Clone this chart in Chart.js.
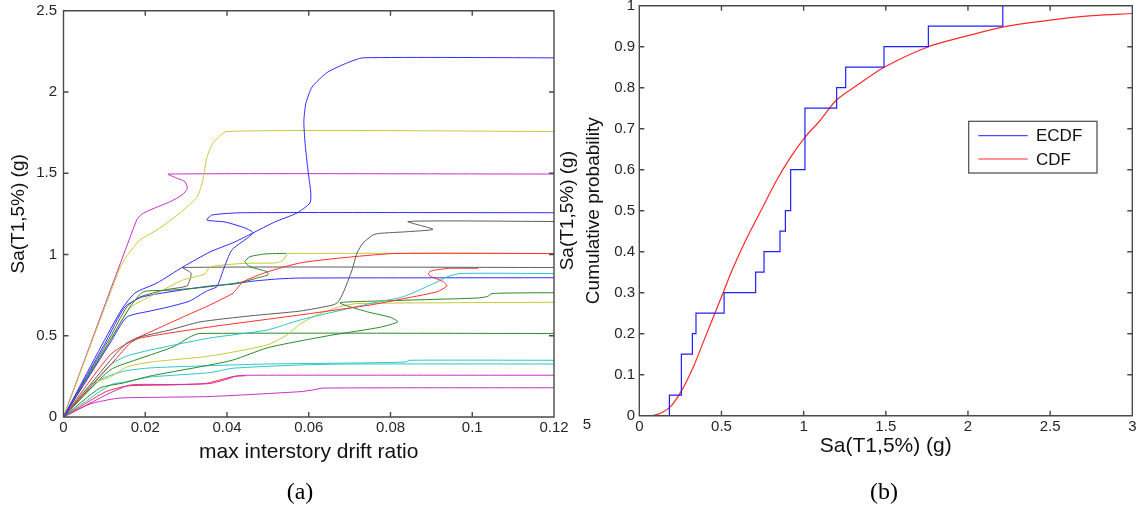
<!DOCTYPE html>
<html>
<head>
<meta charset="utf-8">
<script src="https://cdn.jsdelivr.net/npm/chart.js@4.4.1/dist/chart.umd.min.js"></script>
<style>
  html, body { margin: 0; padding: 0; background: #fff; }
  #wrap { position: relative; width: 1140px; height: 510px; overflow: hidden; background: #fff; }
  canvas { position: absolute; left: 0; top: 0; }
  .cap { position: absolute; font-family: 'Liberation Serif', 'Times New Roman', serif; font-size: 24px; color: #000; transform: translate(-50%, -50%); white-space: nowrap; }
  .stray { position: absolute; font-family: 'Liberation Sans', Arial, sans-serif; font-size: 15px; color: #222; transform: translate(-50%, -50%); }
</style>
</head>
<body>
<div id="wrap">
  <canvas id="ida" width="1140" height="510"></canvas>
  <canvas id="frag" width="1140" height="510"></canvas>
  <div class="cap" style="left:300px; top:491px;">(a)</div>
  <div class="cap" style="left:884px; top:491px;">(b)</div>
  <div class="stray" style="left:587px; top:423px;">5</div>
</div>
<script>
// ---- IDA curves: [max interstory drift ratio, Sa(T1,5%) in g] per ground motion ----
const rec01 = [[0,0],[0.0089,0.42],[0.0143,0.665],[0.0175,0.763],[0.0229,0.825],[0.0292,0.923],[0.0358,1.015],[0.0419,1.077],[0.0463,1.132],[0.0517,1.2],[0.0571,1.255],[0.0603,1.317],[0.0605,1.378],[0.0598,1.52],[0.0591,1.686],[0.0588,1.82],[0.0593,1.93],[0.0608,2.03],[0.0645,2.12],[0.0695,2.18],[0.0733,2.21],[0.12,2.21]];
const rec02 = [[0,0],[0.0138,0.917],[0.0155,0.991],[0.0187,1.089],[0.0229,1.151],[0.0285,1.255],[0.0327,1.354],[0.0341,1.458],[0.0351,1.6],[0.0366,1.686],[0.04,1.757],[0.12,1.757]];
const rec03 = [[0,0],[0.0179,1.212],[0.0192,1.249],[0.0212,1.274],[0.0261,1.325],[0.029,1.366],[0.0303,1.407],[0.0297,1.448],[0.0278,1.469],[0.0256,1.495],[0.12,1.495]];
const rec04 = [[0,0],[0.0114,0.455],[0.0155,0.615],[0.0212,0.652],[0.026,0.679],[0.0309,0.714],[0.035,0.775],[0.0375,0.802],[0.0391,0.905],[0.0412,1.028],[0.0464,1.132],[0.0444,1.163],[0.0395,1.2],[0.0351,1.212],[0.0363,1.243],[0.0439,1.257],[0.12,1.257]];
const rec05 = [[0,0],[0.0126,0.382],[0.0155,0.455],[0.0187,0.492],[0.026,0.535],[0.0334,0.585],[0.0456,0.622],[0.0579,0.652],[0.0659,0.689],[0.0672,0.708],[0.0684,0.763],[0.0706,0.905],[0.0718,1.009],[0.0733,1.071],[0.0757,1.12],[0.0774,1.13],[0.084,1.14],[0.0904,1.155],[0.0843,1.203],[0.12,1.203]];
const rec06 = [[0,0],[0.0114,0.382],[0.017,0.474],[0.0212,0.523],[0.026,0.578],[0.0309,0.634],[0.0358,0.689],[0.0415,0.763],[0.0439,0.831],[0.0498,0.892],[0.0579,0.948],[0.0676,0.978],[0.0811,1.006],[0.12,1.006]];
const rec07 = [[0,0],[0.0114,0.47],[0.0163,0.678],[0.0195,0.77],[0.026,0.78],[0.0351,0.8],[0.0439,0.831],[0.0473,0.855],[0.05,0.874],[0.0498,0.894],[0.0456,0.925],[0.0444,0.956],[0.0456,0.986],[0.0493,1.003],[0.0546,1.007]];
const rec08 = [[0,0],[0.0102,0.42],[0.0163,0.671],[0.0229,0.763],[0.0292,0.843],[0.0346,0.88],[0.0358,0.923],[0.0439,0.945],[0.0517,0.948],[0.0535,0.96],[0.0544,0.991],[0.0552,1.006],[0.12,1.006]];
const rec09 = [[0,0],[0.0114,0.49],[0.0155,0.677],[0.0187,0.738],[0.0248,0.782],[0.0302,0.806],[0.0309,0.843],[0.0312,0.886],[0.0292,0.92],[0.12,0.92]];
const rec10 = [[0,0],[0.0126,0.351],[0.0163,0.455],[0.0187,0.486],[0.0358,0.554],[0.0579,0.628],[0.075,0.689],[0.084,0.732],[0.0914,0.771],[0.0938,0.806],[0.0929,0.833],[0.0901,0.862],[0.0892,0.88],[0.0901,0.9],[0.0946,0.915],[0.1014,0.915]];
const rec11 = [[0,0],[0.0114,0.32],[0.0155,0.375],[0.0212,0.412],[0.0358,0.486],[0.0498,0.535],[0.0579,0.597],[0.075,0.698],[0.0831,0.74],[0.0914,0.831],[0.0938,0.862],[0.097,0.883],[0.12,0.883]];
const rec12 = [[0,0],[0.0102,0.455],[0.015,0.677],[0.0192,0.738],[0.0273,0.775],[0.0358,0.806],[0.0415,0.818],[0.0456,0.834],[0.0522,0.849],[0.0579,0.855],[0.12,0.857]];
const rec13 = [[0,0],[0.0089,0.178],[0.0146,0.209],[0.0212,0.252],[0.0358,0.32],[0.0415,0.351],[0.0498,0.425],[0.0579,0.468],[0.0659,0.505],[0.0774,0.552],[0.0818,0.586],[0.0799,0.614],[0.0742,0.648],[0.0676,0.702],[0.0774,0.714],[0.0897,0.723],[0.1012,0.732],[0.1038,0.742],[0.1048,0.76],[0.12,0.765]];
const rec14 = [[0,0],[0.0065,0.197],[0.0114,0.246],[0.0155,0.308],[0.0212,0.338],[0.0358,0.375],[0.0498,0.443],[0.0547,0.505],[0.0579,0.572],[0.062,0.628],[0.0676,0.679],[0.0718,0.698],[0.12,0.706]];
const rec15 = [[0,0],[0.0114,0.289],[0.0187,0.36],[0.0268,0.431],[0.0309,0.492],[0.0332,0.514],[0.12,0.514]];
const rec16 = [[0,0],[0.0089,0.228],[0.015,0.283],[0.0212,0.302],[0.0334,0.314],[0.0498,0.326],[0.0701,0.332],[0.0835,0.338],[0.0848,0.349],[0.12,0.349]];
const rec17 = [[0,0],[0.0114,0.197],[0.015,0.215],[0.0212,0.246],[0.0358,0.273],[0.0415,0.3],[0.0579,0.32],[0.0701,0.326],[0.12,0.326]];
const rec18 = [[0,0],[0.0114,0.148],[0.0163,0.197],[0.0261,0.2],[0.0358,0.206],[0.0407,0.238],[0.0422,0.252],[0.0449,0.257],[0.12,0.257]];
const rec19 = [[0,0],[0.0102,0.154],[0.0158,0.191],[0.0261,0.197],[0.0346,0.206],[0.0383,0.228],[0.0415,0.249],[0.0446,0.254]];
const rec20 = [[0,0],[0.0065,0.08],[0.0131,0.115],[0.0187,0.12],[0.0358,0.126],[0.0579,0.156],[0.061,0.166],[0.0635,0.178],[0.12,0.18]];

const idaRecords = [rec01, rec02, rec03, rec04, rec05, rec06, rec07, rec08, rec09, rec10,
                    rec11, rec12, rec13, rec14, rec15, rec16, rec17, rec18, rec19, rec20];
const idaColorKeys = ['blue','yellow','magenta','blue','gray','red','green','yellow','gray','red',
                      'cyan','blue','green','yellow','green','cyan','cyan','magenta','red','magenta'];

// ---- Collapse capacities: empirical and fitted distribution ----
const ecdfSa   = [0.183, 0.183, 0.256, 0.323, 0.345, 0.516, 0.708, 0.759, 0.856, 0.889, 0.921, 1.008, 1.201, 1.256, 1.489, 1.759, 2.212];
const ecdfProb = [0,     0.05,  0.15,  0.2,   0.25,  0.3,   0.35,  0.4,   0.45,  0.5,   0.6,   0.75,  0.8,   0.85,  0.9,   0.95,  1.0];
const cdfSa    = [0.075, 0.13, 0.19, 0.26, 0.33, 0.39, 0.46, 0.51, 0.57, 0.65, 0.74, 0.83, 0.92, 1.01, 1.10, 1.20, 1.34, 1.49, 1.76, 2.03, 2.24, 2.50, 2.76, 3.0];
const cdfProb  = [0.0,   0.006, 0.022, 0.063, 0.12, 0.18, 0.25, 0.30, 0.36, 0.43, 0.50, 0.57, 0.63, 0.68, 0.72, 0.77, 0.81, 0.85, 0.90, 0.93, 0.95, 0.965, 0.976, 0.981];

// ---- Tick labels ----
const driftTicks = [0, 0.02, 0.04, 0.06, 0.08, 0.1, 0.12];
const saTicks    = [0, 0.5, 1, 1.5, 2, 2.5];
const saTicksB   = [0, 0.5, 1, 1.5, 2, 2.5, 3];
const probTicks  = [0, 0.1, 0.2, 0.3, 0.4, 0.5, 0.6, 0.7, 0.8, 0.9, 1];

const lineColors = {
  blue: '#2d2dff', green: '#2a8a2a', red: '#ff2d2d', cyan: '#2ec6c6',
  magenta: '#c630c6', yellow: '#c9c93a', gray: '#5c5c5c'
};

const SANS = "'Liberation Sans', Arial, sans-serif";
const tickFont = { family: SANS, size: 15 };
const tickColor = '#262626';

// Box around the axes with inward tick marks on all four sides
const boxFrame = {
  id: 'boxFrame',
  afterDatasetsDraw(chart) {
    const { ctx, chartArea: a, scales: { x, y } } = chart;
    const L = a.left, R = a.right, T = a.top, B = a.bottom, len = 5;
    ctx.save();
    ctx.strokeStyle = '#4a4a4a';
    ctx.lineWidth = 1.4;
    ctx.beginPath();
    ctx.rect(L, T, R - L, B - T);
    x.ticks.forEach(t => {
      const px = x.getPixelForValue(t.value);
      ctx.moveTo(px, B); ctx.lineTo(px, B - len);
      ctx.moveTo(px, T); ctx.lineTo(px, T + len);
    });
    y.ticks.forEach(t => {
      const py = y.getPixelForValue(t.value);
      ctx.moveTo(L, py); ctx.lineTo(L + len, py);
      ctx.moveTo(R, py); ctx.lineTo(R - len, py);
    });
    ctx.stroke();
    ctx.restore();
  }
};

// Boxed legend inside the axes
const boxLegend = {
  id: 'boxLegend',
  afterDraw(chart) {
    const { ctx, chartArea: a } = chart;
    const x0 = a.right - 163.6, y0 = a.top + 115.6, w = 128.3, h = 51.7;
    ctx.save();
    ctx.fillStyle = '#fff';
    ctx.fillRect(x0, y0, w, h);
    ctx.strokeStyle = '#4a4a4a';
    ctx.lineWidth = 1.2;
    ctx.strokeRect(x0, y0, w, h);
    ctx.font = '17px ' + SANS;
    ctx.textBaseline = 'middle';
    ctx.textAlign = 'left';
    chart.data.datasets.forEach((ds, i) => {
      const yy = y0 + 14.4 + i * 23.3;
      ctx.strokeStyle = ds.borderColor;
      ctx.lineWidth = 1;
      ctx.beginPath();
      ctx.moveTo(x0 + 9.6, yy); ctx.lineTo(x0 + 59, yy);
      ctx.stroke();
      ctx.fillStyle = '#111';
      ctx.fillText(ds.label, x0 + 67.3, yy + 1);
    });
    ctx.restore();
  }
};

function fixedTicks(values) {
  return scale => { scale.ticks = values.map(v => ({ value: v })); };
}

function xAxis(min, max, values, title, height, titlePad) {
  return {
    type: 'linear', min, max,
    afterBuildTicks: fixedTicks(values),
    ticks: { callback: v => String(v), font: tickFont, color: tickColor, padding: 2, maxRotation: 0, autoSkip: false },
    grid: { display: false, drawTicks: false },
    border: { display: false },
    title: { display: true, text: title, font: { family: SANS, size: 21 }, color: '#111', padding: { top: 0, bottom: titlePad } },
    afterFit: s => { s.height = height; s.paddingLeft = 0; s.paddingRight = 0; }
  };
}

function yAxis(min, max, values, title, width, tickPad, titlePadTop, titleLineHeight) {
  return {
    type: 'linear', min, max,
    afterBuildTicks: fixedTicks(values),
    ticks: { callback: v => String(v), font: tickFont, color: tickColor, padding: tickPad, autoSkip: false },
    grid: { display: false, drawTicks: false },
    border: { display: false },
    title: { display: true, text: title, font: { family: SANS, size: 19, lineHeight: titleLineHeight }, color: '#111', padding: { top: titlePadTop, bottom: 0 } },
    afterFit: s => { s.width = width; s.paddingTop = 0; s.paddingBottom = 0; }
  };
}

// (a) IDA curves
new Chart(document.getElementById('ida'), {
  type: 'scatter',
  data: {
    datasets: idaRecords.map((rec, i) => ({
      label: 'GM ' + (i + 1),
      data: rec.map(p => ({ x: p[0], y: p[1] })),
      showLine: true,
      borderColor: lineColors[idaColorKeys[i]],
      borderWidth: 1,
      pointRadius: 0,
      tension: 0.2,
      fill: false
    }))
  },
  options: {
    responsive: false,
    animation: false,
    layout: { padding: { left: 0, top: 10.7, right: 586, bottom: 0 } },
    plugins: { legend: { display: false }, tooltip: { enabled: false } },
    scales: {
      x: xAxis(0, 0.12, driftTicks, 'max interstory drift ratio', 93, 45.5),
      y: yAxis(0, 2.5, saTicks, 'Sa(T1,5%) (g)', 63.5, 6.5, 7.6, 1.2)
    }
  },
  plugins: [boxFrame]
});

// (b) fragility: empirical vs fitted CDF
new Chart(document.getElementById('frag'), {
  type: 'scatter',
  data: {
    datasets: [
      {
        label: 'ECDF',
        data: ecdfSa.map((v, i) => ({ x: v, y: ecdfProb[i] })),
        showLine: true, stepped: 'before',
        borderColor: '#2020ff', borderWidth: 1.2, pointRadius: 0, fill: false
      },
      {
        label: 'CDF',
        data: cdfSa.map((v, i) => ({ x: v, y: cdfProb[i] })),
        showLine: true, tension: 0.3,
        borderColor: '#ff2a2a', borderWidth: 1.2, pointRadius: 0, fill: false
      }
    ]
  },
  options: {
    responsive: false,
    animation: false,
    layout: { padding: { left: 555, top: 5.7, right: 7.7, bottom: 0 } },
    plugins: { legend: { display: false }, tooltip: { enabled: false } },
    scales: {
      x: xAxis(0, 3, saTicksB, 'Sa(T1,5%) (g)', 94.3, 50.7),
      y: yAxis(0, 1, probTicks, ['Sa(T1,5%) (g)', 'Cumulative probability'], 84.3, 4.3, 0, 1.37)
    }
  },
  plugins: [boxFrame, boxLegend]
});
</script>
</body>
</html>
